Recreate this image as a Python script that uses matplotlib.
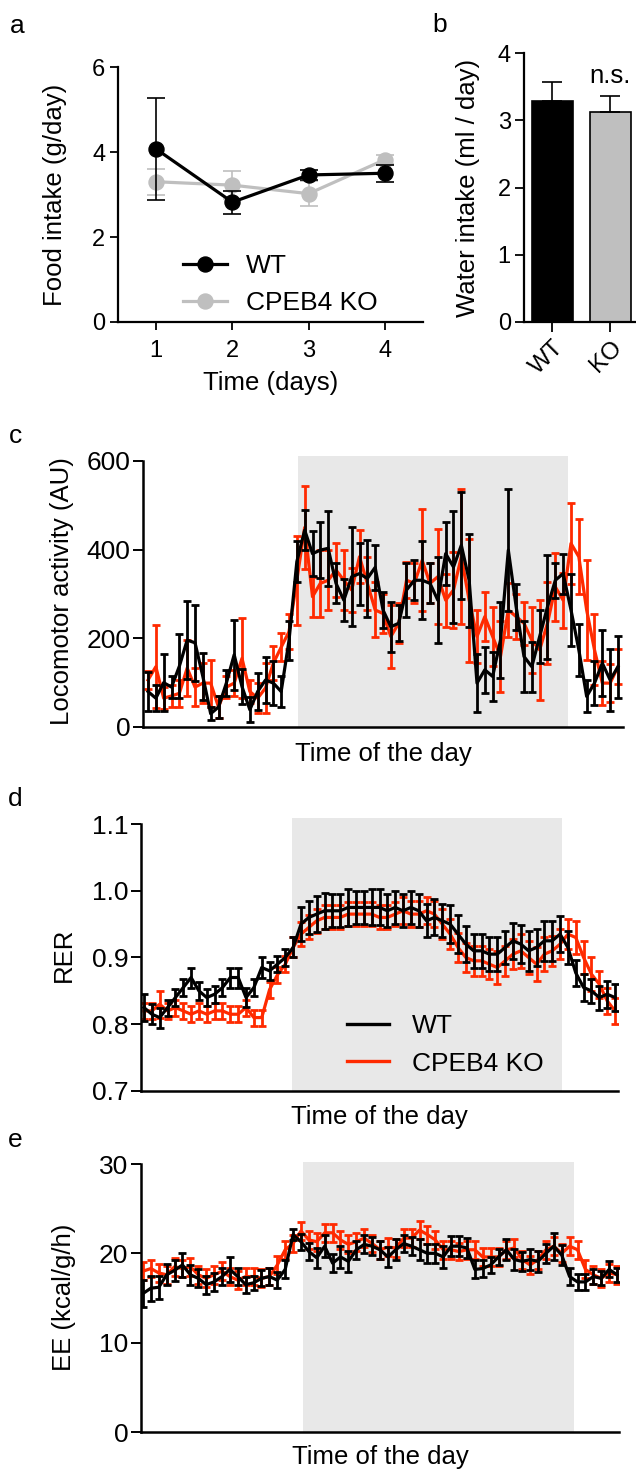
import numpy as np
import matplotlib
matplotlib.use("Agg")
import matplotlib.pyplot as plt
from matplotlib.lines import Line2D
import matplotlib.transforms as mtransforms

plt.rcParams['font.family'] = ['Liberation Sans', 'DejaVu Sans']

# ---------------- data ----------------
days = [1, 2, 3, 4]
wt_food = [4.07, 2.82, 3.46, 3.50]
wt_food_err = [1.20, 0.27, 0.12, 0.20]
ko_food = [3.30, 3.22, 3.02, 3.82]
ko_food_err = [0.30, 0.33, 0.30, 0.10]

water_groups = ['WT', 'KO']
water_mean = [3.28, 3.13]
water_err = [0.29, 0.23]

# Locomotor activity (AU), 61 time bins
wt_loco = [80, 65, 100, 90, 137, 196, 190, 114, 30, 45,
           99, 163, 91, 39, 80, 106, 99, 80, 195, 373,
           444, 391, 399, 403, 324, 286, 339, 346, 335, 360,
           264, 226, 234, 309, 331, 331, 324, 286, 391, 361,
           410, 331, 99, 129, 114, 196, 399, 271, 159, 136,
           204, 271, 331, 346, 264, 174, 69, 99, 144, 106, 136]
wt_loco_err = [45, 30, 65, 25, 72, 88, 86, 54, 15, 25,
               30, 79, 40, 28, 42, 52, 50, 35, 43, 47,
               45, 50, 63, 84, 45, 47, 112, 70, 86, 50,
               40, 56, 41, 60, 45, 88, 45, 97, 71, 126,
               121, 105, 65, 52, 56, 86, 137, 52, 80, 56,
               60, 118, 40, 45, 82, 58, 36, 49, 74, 71, 70]
ko_loco = [106, 136, 65, 70, 76, 133, 90, 99, 99, 45,
           90, 99, 155, 80, 65, 88, 144, 180, 215, 331,
           450, 294, 324, 331, 354, 331, 309, 384, 324, 264,
           256, 204, 234, 331, 324, 376, 324, 339, 286, 309,
           384, 286, 204, 249, 204, 159, 264, 249, 234, 196,
           174, 234, 316, 286, 414, 384, 264, 174, 99, 99, 136]
ko_loco_err = [20, 94, 25, 25, 30, 64, 43, 45, 53, 25,
               25, 30, 90, 26, 34, 56, 38, 32, 40, 100,
               93, 45, 75, 68, 60, 68, 49, 60, 60, 62,
               45, 72, 45, 41, 45, 115, 45, 107, 60, 85,
               152, 139, 60, 56, 67, 79, 60, 50, 49, 75,
               112, 92, 77, 62, 92, 85, 113, 80, 50, 43, 40]

# RER
wt_rer = [0.825, 0.815, 0.81, 0.825, 0.84, 0.855, 0.87, 0.85, 0.84, 0.845,
          0.855, 0.87, 0.87, 0.84, 0.855, 0.885, 0.88, 0.89, 0.90, 0.915,
          0.95, 0.96, 0.965, 0.97, 0.97, 0.97, 0.975, 0.975, 0.975, 0.975,
          0.975, 0.97, 0.975, 0.97, 0.975, 0.97, 0.955, 0.96, 0.955, 0.95,
          0.935, 0.92, 0.91, 0.91, 0.905, 0.905, 0.915, 0.925, 0.92, 0.91,
          0.915, 0.925, 0.925, 0.935, 0.915, 0.877, 0.855, 0.85, 0.84, 0.845, 0.84]
wt_rer_err = [0.02, 0.015, 0.015, 0.012, 0.013, 0.013, 0.015, 0.014, 0.013, 0.013,
              0.013, 0.015, 0.015, 0.014, 0.013, 0.015, 0.013, 0.012, 0.012, 0.015,
              0.025, 0.025, 0.027, 0.027, 0.025, 0.025, 0.028, 0.025, 0.025, 0.027,
              0.027, 0.025, 0.025, 0.025, 0.025, 0.025, 0.025, 0.027, 0.025, 0.028,
              0.028, 0.027, 0.025, 0.025, 0.025, 0.025, 0.025, 0.027, 0.028, 0.03,
              0.028, 0.03, 0.03, 0.027, 0.025, 0.02, 0.02, 0.018, 0.018, 0.02, 0.02]
ko_rer = [0.82, 0.82, 0.83, 0.82, 0.825, 0.82, 0.815, 0.82, 0.815, 0.82,
          0.82, 0.815, 0.815, 0.825, 0.81, 0.81, 0.852, 0.874, 0.89, 0.915,
          0.935, 0.945, 0.955, 0.96, 0.96, 0.96, 0.965, 0.965, 0.965, 0.965,
          0.96, 0.96, 0.965, 0.97, 0.965, 0.965, 0.97, 0.965, 0.95, 0.935,
          0.915, 0.90, 0.895, 0.895, 0.89, 0.885, 0.895, 0.905, 0.91, 0.90,
          0.89, 0.905, 0.91, 0.92, 0.935, 0.93, 0.90, 0.875, 0.86, 0.835, 0.82]
ko_rer_err = [0.012, 0.012, 0.02, 0.012, 0.012, 0.012, 0.012, 0.012, 0.012, 0.012,
              0.012, 0.012, 0.012, 0.012, 0.012, 0.012, 0.012, 0.012, 0.012, 0.015,
              0.018, 0.018, 0.018, 0.018, 0.018, 0.018, 0.018, 0.018, 0.018, 0.018,
              0.018, 0.018, 0.018, 0.02, 0.02, 0.02, 0.02, 0.02, 0.022, 0.022,
              0.022, 0.022, 0.022, 0.022, 0.022, 0.025, 0.022, 0.022, 0.025, 0.025,
              0.025, 0.025, 0.022, 0.022, 0.022, 0.025, 0.025, 0.025, 0.02, 0.02, 0.02]

# Energy expenditure (kcal/g/h)
wt_ee = [15.5, 16.1, 16.2, 17.6, 18.1, 18.7, 17.6, 17.2, 16.5, 16.8,
         17.4, 18.2, 17.4, 16.5, 16.7, 17.2, 17.4, 17.0, 18.2, 22.1,
         21.3, 20.2, 19.5, 20.8, 18.9, 19.6, 19.1, 20.4, 21.0, 20.8,
         20.4, 19.6, 20.4, 21.1, 20.8, 20.4, 20.0, 20.0, 19.6, 20.8,
         20.8, 20.6, 18.2, 18.3, 18.7, 19.6, 20.4, 19.3, 19.1, 19.3,
         19.1, 20.0, 20.8, 19.8, 17.4, 16.8, 16.8, 17.4, 17.2, 18.2, 17.6]
wt_ee_err = [1.5, 1.4, 1.3, 1.2, 1.2, 1.3, 1.1, 1.0, 1.0, 1.0,
             1.0, 1.4, 1.0, 0.9, 0.8, 0.9, 1.0, 0.9, 1.0, 0.6,
             0.9, 1.0, 1.1, 1.2, 1.0, 1.2, 1.2, 1.0, 1.0, 1.0,
             1.0, 1.1, 1.2, 1.0, 1.0, 1.2, 1.1, 1.1, 1.2, 1.1,
             1.1, 1.1, 1.0, 0.9, 0.9, 0.9, 1.2, 1.2, 1.1, 1.2,
             1.2, 1.1, 1.5, 1.1, 1.0, 0.9, 0.9, 0.8, 0.8, 0.9, 0.8]
ko_ee = [18.0, 18.3, 17.8, 17.6, 18.5, 18.3, 18.5, 17.6, 17.2, 17.6,
         18.0, 17.4, 17.0, 17.4, 17.4, 17.2, 17.4, 18.7, 20.4, 21.1,
         22.5, 21.5, 21.3, 22.3, 22.3, 21.5, 21.0, 21.3, 21.7, 21.1,
         20.4, 20.7, 20.6, 21.7, 21.7, 22.6, 22.1, 21.5, 20.4, 20.4,
         20.2, 20.4, 20.4, 19.6, 19.6, 19.6, 20.4, 20.6, 19.3, 18.7,
         19.3, 20.4, 20.8, 20.0, 20.8, 20.4, 18.2, 17.6, 17.2, 17.8, 17.6]
ko_ee_err = [1.0] * 61

dark_c = (19.15, 53.6)
dark_d = (18.85, 53.25)
dark_e = (20.25, 54.56)

# ---------------- style ----------------
W, H = 636, 1473
fig = plt.figure(figsize=(W / 100, H / 100), dpi=100)

BLACK = '#000000'
GREY = '#bfbfbf'
RED = '#ff2a00'
SHADE = '#e8e8e8'
LABEL = 18.5


def px_axes(left, right, top, bottom):
    return fig.add_axes([left / W, 1 - bottom / H, (right - left) / W, (bottom - top) / H])


def style(ax, lw=1.6):
    for s in ['top', 'right']:
        ax.spines[s].set_visible(False)
    for s in ['left', 'bottom']:
        ax.spines[s].set_linewidth(lw)
        ax.spines[s].set_color('black')


def place_labels(ax, ylab_x=None, xlab_y=None):
    if ylab_x is not None:
        tr = mtransforms.blended_transform_factory(fig.transFigure, ax.transAxes)
        ax.yaxis.set_label_coords(ylab_x / W, 0.5, transform=tr)
        ax.yaxis.label.set_va('center')
    if xlab_y is not None:
        tr = mtransforms.blended_transform_factory(ax.transAxes, fig.transFigure)
        ax.xaxis.set_label_coords(0.5, 1 - xlab_y / H, transform=tr)
        ax.xaxis.label.set_va('center')


# ---------- panel a ----------
axa = px_axes(118, 423, 67, 322)
style(axa)
axa.errorbar(days, ko_food, yerr=ko_food_err, color=GREY, marker='o', ms=10.8,
             lw=2.3, elinewidth=1.2, capsize=6.5, capthick=1.2, zorder=2)
axa.errorbar(days, wt_food, yerr=wt_food_err, color=BLACK, marker='o', ms=10.8,
             lw=2.3, elinewidth=1.2, capsize=6.5, capthick=1.2, zorder=3)
axa.set_xlim(0.5, 4.5)
axa.set_ylim(0, 6)
axa.set_xticks(days)
axa.set_yticks([0, 2, 4, 6])
axa.tick_params(axis='both', labelsize=17, length=6, width=1.3)
axa.tick_params(axis='x', pad=7)
axa.tick_params(axis='y', pad=3)
axa.set_xlabel('Time (days)', fontsize=LABEL)
axa.set_ylabel('Food intake (g/day)', fontsize=LABEL)
place_labels(axa, ylab_x=55, xlab_y=383)
handles_a = [Line2D([], [], color=BLACK, marker='o', ms=10.8, lw=2.3),
             Line2D([], [], color=GREY, marker='o', ms=10.8, lw=2.3)]
axa.legend(handles_a, ['WT', 'CPEB4 KO'], loc='upper left',
           bbox_to_anchor=(183 / W, 1 - 254 / H), bbox_transform=fig.transFigure,
           frameon=False, fontsize=19, handlelength=1.65, handletextpad=0.75,
           borderpad=0, borderaxespad=0, labelspacing=0.5)

# ---------- panel b ----------
axb = px_axes(524, 636, 53, 322)
style(axb)
xb = np.arange(len(water_groups))
axb.bar(xb, water_mean, width=0.7, color=[BLACK, GREY], edgecolor='black', linewidth=1.2,
        yerr=[np.zeros(len(water_err)), water_err], capsize=7.5,
        error_kw=dict(elinewidth=1.2, capthick=1.2, ecolor='black'))
axb.set_xlim(-0.49, 1.44)
axb.set_ylim(0, 4)
axb.set_yticks([0, 1, 2, 3, 4])
axb.set_xticks(xb)
axb.set_xticklabels(water_groups, rotation=45, ha='right', rotation_mode='anchor', fontsize=17.5)
axb.tick_params(axis='y', labelsize=17, length=6.5, width=1.3, pad=3)
axb.tick_params(axis='x', length=7, width=1.3, pad=3)
axb.set_ylabel('Water intake (ml / day)', fontsize=LABEL)
place_labels(axb, ylab_x=468)
axb.text(1, water_mean[1] + water_err[1] + 0.12, 'n.s.', ha='center', va='bottom', fontsize=18.5)


# ---------- time-series panels ----------
def ts_panel(ax, wt, wt_err, ko, ko_err, dark, ylim, ybounds, yticks, ylabel,
             ylab_x, xlab_y, ticklabels=None):
    style(ax, lw=1.8)
    t = np.arange(len(wt))
    ax.axvspan(dark[0], dark[1], ymin=0, ymax=1, color=SHADE, lw=0, zorder=0)
    ax.errorbar(t, ko, yerr=ko_err, color=RED, lw=2.3, elinewidth=2.0,
                capsize=2.8, capthick=2.0, zorder=2)
    ax.errorbar(t, wt, yerr=wt_err, color=BLACK, lw=2.3, elinewidth=2.0,
                capsize=2.8, capthick=2.0, zorder=3)
    ax.set_ylim(*ylim)
    ax.spines['left'].set_bounds(*ybounds)
    ax.set_yticks(yticks)
    if ticklabels is not None:
        ax.set_yticklabels(ticklabels)
    ax.set_xticks([])
    ax.tick_params(axis='y', labelsize=19, length=7, width=1.4, pad=2)
    ax.set_xlabel('Time of the day', fontsize=LABEL)
    ax.set_ylabel(ylabel, fontsize=LABEL)
    place_labels(ax, ylab_x=ylab_x, xlab_y=xlab_y)


axc = px_axes(143, 623, 727 - 266 * 611 / 600, 727)
ts_panel(axc, wt_loco, wt_loco_err, ko_loco, ko_loco_err, dark_c,
         (0, 611), (0, 600), [0, 200, 400, 600], 'Locomotor activity (AU)', 62, 754)
axc.set_xlim(-0.64, 60.64)

axd = px_axes(141, 618, 1091 - 267 * 0.409 / 0.4, 1091)
ts_panel(axd, wt_rer, wt_rer_err, ko_rer, ko_rer_err, dark_d,
         (0.7, 1.109), (0.7, 1.1), [0.7, 0.8, 0.9, 1.0, 1.1], 'RER', 64, 1117,
         ticklabels=['0.7', '0.8', '0.9', '1.0', '1.1'])
axd.set_xlim(-0.38, 60.38)
handles_d = [Line2D([], [], color=BLACK, lw=2.4), Line2D([], [], color=RED, lw=2.4)]
axd.legend(handles_d, ['WT', 'CPEB4 KO'], loc='upper left',
           bbox_to_anchor=(347 / W, 1 - 1014 / H), bbox_transform=fig.transFigure,
           frameon=False, fontsize=19, handlelength=1.6, handletextpad=0.85,
           borderpad=0, borderaxespad=0, labelspacing=0.52)

axe = px_axes(141, 619, 1432 - 268 * 30.2 / 30, 1432)
ts_panel(axe, wt_ee, wt_ee_err, ko_ee, ko_ee_err, dark_e,
         (0, 30.2), (0, 30), [0, 10, 20, 30], 'EE (kcal/g/h)', 64, 1457)
axe.set_xlim(-0.25, 60.25)

# panel letters
for letter, (x, y) in {'a': (17, 33), 'b': (440, 32), 'c': (15, 443),
                       'd': (15, 806), 'e': (15, 1147)}.items():
    fig.text(x / W, 1 - y / H, letter, ha='center', va='baseline', fontsize=19)

fig.savefig('out.png', dpi=100)
